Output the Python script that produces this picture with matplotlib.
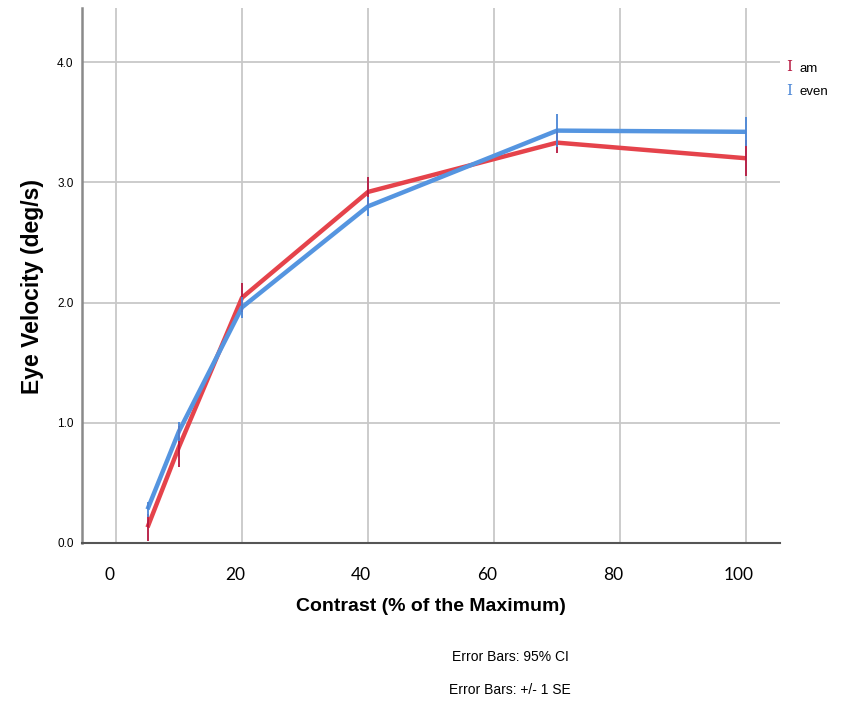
import matplotlib
matplotlib.use("Agg")
import matplotlib.pyplot as plt
import matplotlib.transforms as mtransforms

contrast = [5, 10, 20, 40, 70, 100]
am_mean = [0.13, 0.80, 2.04, 2.92, 3.33, 3.20]
am_err = [0.11, 0.17, 0.12, 0.12, 0.09, 0.15]
even_mean = [0.28, 0.93, 1.96, 2.80, 3.43, 3.42]
even_err = [0.06, 0.08, 0.09, 0.08, 0.14, 0.12]
x_ticks = [0, 20, 40, 60, 80, 100]
y_ticks = [0.0, 1.0, 2.0, 3.0, 4.0]

red = "#e5434b"
red_dark = "#b5173f"
blue = "#5595e0"
blue_dark = "#4a86d6"
font = "Liberation Sans"

fig = plt.figure(figsize=(8.55, 7.06), dpi=100)
ax = fig.add_axes([0.0959, 0.2309, 0.8164, 0.7578])

ax.plot(contrast, am_mean, color=red, lw=3.2, solid_capstyle="butt", zorder=3)
ax.plot(contrast, even_mean, color=blue, lw=3.2, solid_capstyle="butt", zorder=3)
ax.vlines(contrast, [m - e for m, e in zip(am_mean, am_err)],
          [m + e for m, e in zip(am_mean, am_err)], color=red_dark, lw=1.3, zorder=4)
ax.vlines(contrast, [m - e for m, e in zip(even_mean, even_err)],
          [m + e for m, e in zip(even_mean, even_err)], color=blue_dark, lw=1.3, zorder=4)

ax.set_xlim(-5.4, 105.4)
ax.set_ylim(0, 4.45)
ax.set_xticks(x_ticks)
ax.set_yticks(y_ticks)
ax.set_yticklabels([f"{v:.1f}" for v in y_ticks], fontsize=8.5, family=font)
ax.set_xticklabels([str(v) for v in x_ticks], fontsize=12.5, family="Lato")
ax.tick_params(axis="x", length=0, pad=17)
ax.tick_params(axis="y", length=0, pad=6)
# SPSS puts the x labels a little left of the grid lines
shift = mtransforms.ScaledTranslation(-7 / 100, 0, fig.dpi_scale_trans)
for lbl in ax.get_xticklabels():
    lbl.set_transform(lbl.get_transform() + shift)
ax.grid(True, color="#c8c8c8", lw=1.3)
ax.set_axisbelow(True)

for side in ["top", "right"]:
    ax.spines[side].set_visible(False)
ax.spines["left"].set_color("#8a8a8a")
ax.spines["left"].set_linewidth(1.8)
ax.spines["bottom"].set_color("#555555")
ax.spines["bottom"].set_linewidth(1.5)

ax.set_xlabel("Contrast (% of the Maximum)", fontsize=14, fontweight="bold",
              family=font, labelpad=11)
ax.set_ylabel("Eye Velocity (deg/s)", fontsize=16.5, fontweight="bold",
              family=font)
ax.yaxis.set_label_coords(-0.055, 0.48)

# legend, drawn by hand outside the axes
fig.text(789 / 855, 1 - 67 / 706, "I", color=red_dark, fontsize=11, family="DejaVu Serif",
         ha="center", va="center")
fig.text(789 / 855, 1 - 91 / 706, "I", color=blue_dark, fontsize=11, family="DejaVu Serif",
         ha="center", va="center")
fig.text(799 / 855, 1 - 69 / 706, "am", fontsize=9.5, family=font, va="center")
fig.text(799 / 855, 1 - 92 / 706, "even", fontsize=9.5, family=font, va="center")

fig.text(510 / 855, 1 - 657 / 706, "Error Bars: 95% CI", fontsize=10,
         family=font, ha="center", va="center")
fig.text(510 / 855, 1 - 690 / 706, "Error Bars: +/- 1 SE", fontsize=10,
         family=font, ha="center", va="center")

fig.savefig("out.png", dpi=100)
